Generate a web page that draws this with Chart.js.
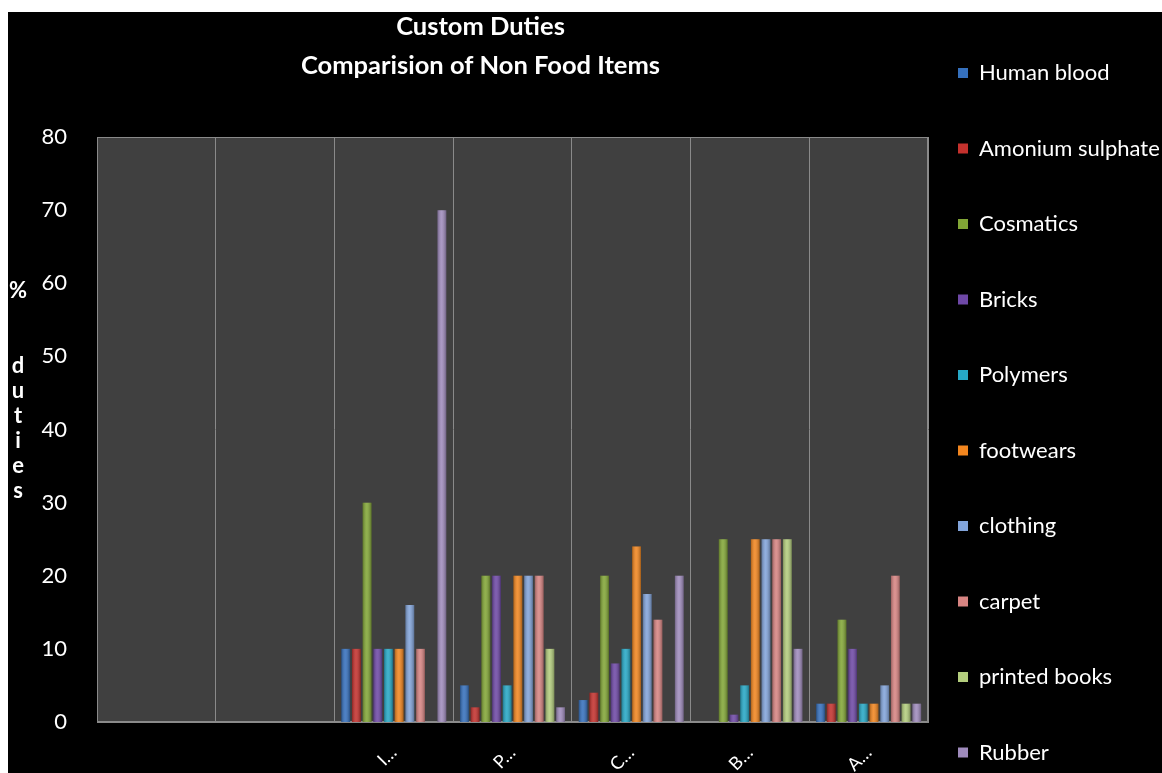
<!DOCTYPE html>
<html>
<head>
<meta charset="utf-8">
<title>Custom Duties</title>
<script src="https://cdn.jsdelivr.net/npm/chart.js@4.4.1/dist/chart.umd.min.js"></script>
<style>
	html, body { margin: 0; padding: 0; background: #fff; overflow: hidden; }
	#wrap { position: absolute; left: 8px; top: 12px; width: 1154px; height: 825px; background: #000; }
</style>
</head>
<body>
<div id="wrap"><canvas id="myChart"></canvas></div>
<script>
'use strict';

const categories = ['', '', 'I…', 'P…', 'C…', 'B…', 'A…'];
const yTicks = [0, 10, 20, 30, 40, 50, 60, 70, 80];

const humanBlood = [null, null, 10, 5, 3, 0, 2.5];
const amoniumSulphate = [null, null, 10, 2, 4, 0, 2.5];
const cosmatics = [null, null, 30, 20, 20, 25, 14];
const bricks = [null, null, 10, 20, 8, 1, 10];
const polymers = [null, null, 10, 5, 10, 5, 2.5];
const footwears = [null, null, 10, 20, 24, 25, 2.5];
const clothing = [null, null, 16, 20, 17.5, 25, 5];
const carpet = [null, null, 10, 20, 14, 25, 20];
const printedBooks = [null, null, 0, 10, 0, 25, 2.5];
const rubber = [null, null, 70, 2, 20, 10, 2.5];

const series = [
	{ label: 'Human blood', data: humanBlood, color: '#3570bd' },
	{ label: 'Amonium sulphate', data: amoniumSulphate, color: '#c4312d' },
	{ label: 'Cosmatics', data: cosmatics, color: '#82a636' },
	{ label: 'Bricks', data: bricks, color: '#6e48a6' },
	{ label: 'Polymers', data: polymers, color: '#26a8c6' },
	{ label: 'footwears', data: footwears, color: '#f2861f' },
	{ label: 'clothing', data: clothing, color: '#82a4da' },
	{ label: 'carpet', data: carpet, color: '#d78482' },
	{ label: 'printed books', data: printedBooks, color: '#b3cd7d' },
	{ label: 'Rubber', data: rubber, color: '#9f8bbc' },
];

const FONT = 'Lato';

// dark plot area with a thin grey frame, like the original
const plotFrame = {
	id: 'plotFrame',
	beforeDraw(chart) {
		const { ctx, chartArea: a } = chart;
		ctx.save();
		ctx.fillStyle = '#404040';
		ctx.fillRect(a.left, a.top, a.width, a.height);
		ctx.strokeStyle = '#8a8a8a';
		ctx.lineWidth = 1;
		ctx.strokeRect(a.left + 0.5, a.top + 0.5, a.width - 1, a.height - 1);
		ctx.restore();
	},
};

// soft cylinder shading over each bar the library has laid out
const barShade = {
	id: 'barShade',
	afterDatasetsDraw(chart) {
		const { ctx } = chart;
		ctx.save();
		chart.data.datasets.forEach((ds, i) => {
			chart.getDatasetMeta(i).data.forEach((bar) => {
				if (bar.skip || !bar.width) return;
				const left = bar.x - bar.width / 2;
				const h = bar.base - bar.y;
				if (h <= 0) return;
				const g = ctx.createLinearGradient(left, 0, left + bar.width, 0);
				g.addColorStop(0, 'rgba(0,0,0,0.28)');
				g.addColorStop(0.45, 'rgba(255,255,255,0.12)');
				g.addColorStop(1, 'rgba(0,0,0,0.3)');
				ctx.fillStyle = g;
				ctx.fillRect(left, bar.y, bar.width, h);
			});
		});
		ctx.restore();
	},
};

// title sits a bit left of the plot centre; y title is stacked letters
const captions = {
	id: 'captions',
	afterLayout(chart) {
		chart.titleBlock.left -= 32;
		chart.titleBlock.right -= 32;
	},
	afterDraw(chart) {
		const { ctx, chartArea: a } = chart;
		const letters = ['%', '', '', 'd', 'u', 't', 'i', 'e', 's'];
		ctx.save();
		ctx.fillStyle = '#fff';
		ctx.font = 'bold 22px ' + FONT;
		ctx.textAlign = 'center';
		ctx.textBaseline = 'middle';
		letters.forEach((ch, i) => {
			ctx.fillText(ch, 10, a.top + 154 + i * 25);
		});
		ctx.restore();
	},
};

generateGraph();

function generateGraph() {
	const datasets = series.map((s) => ({
		label: s.label,
		data: s.data,
		backgroundColor: s.color,
		borderWidth: 0,
		categoryPercentage: 0.9,
		barPercentage: 0.82,
	}));

	displayGraph({ labels: categories, datasets });
}

function displayGraph({ labels, datasets }) {
	const ctx = document.getElementById('myChart').getContext('2d');
	const myChart = new Chart(ctx, {
		type: 'bar',
		data: { labels, datasets },
		plugins: [plotFrame, barShade, captions],
		options: {
			responsive: true,
			maintainAspectRatio: false,
			animation: false,
			devicePixelRatio: 1,
			layout: { padding: 0 },
			plugins: {
				title: {
					display: true,
					fullSize: false,
					text: ['Custom Duties', 'Comparision of Non Food Items'],
					color: '#fff',
					font: { family: FONT, size: 25.5, weight: 'bold', lineHeight: 39 / 25.5 },
					padding: { top: -4.5, bottom: 51.5 },
				},
				legend: {
					position: 'right',
					align: 'center',
					maxWidth: 234,
					labels: {
						color: '#fff',
						boxWidth: 10,
						boxHeight: 10,
						padding: 30,
						font: { family: FONT, size: 22, lineHeight: 45.5 / 22 },
						generateLabels(chart) {
							return Chart.defaults.plugins.legend.labels
								.generateLabels(chart)
								.map((item) => ({ ...item, text: [item.text] }));
						},
					},
				},
				tooltip: { enabled: false },
			},
			scales: {
				x: {
					grid: { display: true, color: '#8a8a8a', drawTicks: false, offset: true },
					border: { display: true, color: '#8a8a8a' },
					ticks: {
						color: '#fff',
						font: { family: FONT, size: 18 },
						autoSkip: false,
						minRotation: 45,
						maxRotation: 45,
						padding: 20,
					},
					afterFit(scale) {
						scale.height = 115;
					},
				},
				y: {
					min: 0,
					max: 80,
					grid: { display: false },
					border: { display: true, color: '#8a8a8a' },
					afterBuildTicks(scale) {
						scale.ticks = yTicks.map((v) => ({ value: v }));
					},
					ticks: {
						color: '#fff',
						font: { family: FONT, size: 22 },
						padding: 22,
					},
					afterFit(scale) {
						scale.width = 89;
					},
				},
			},
		},
	});
}
</script>
</body>
</html>
